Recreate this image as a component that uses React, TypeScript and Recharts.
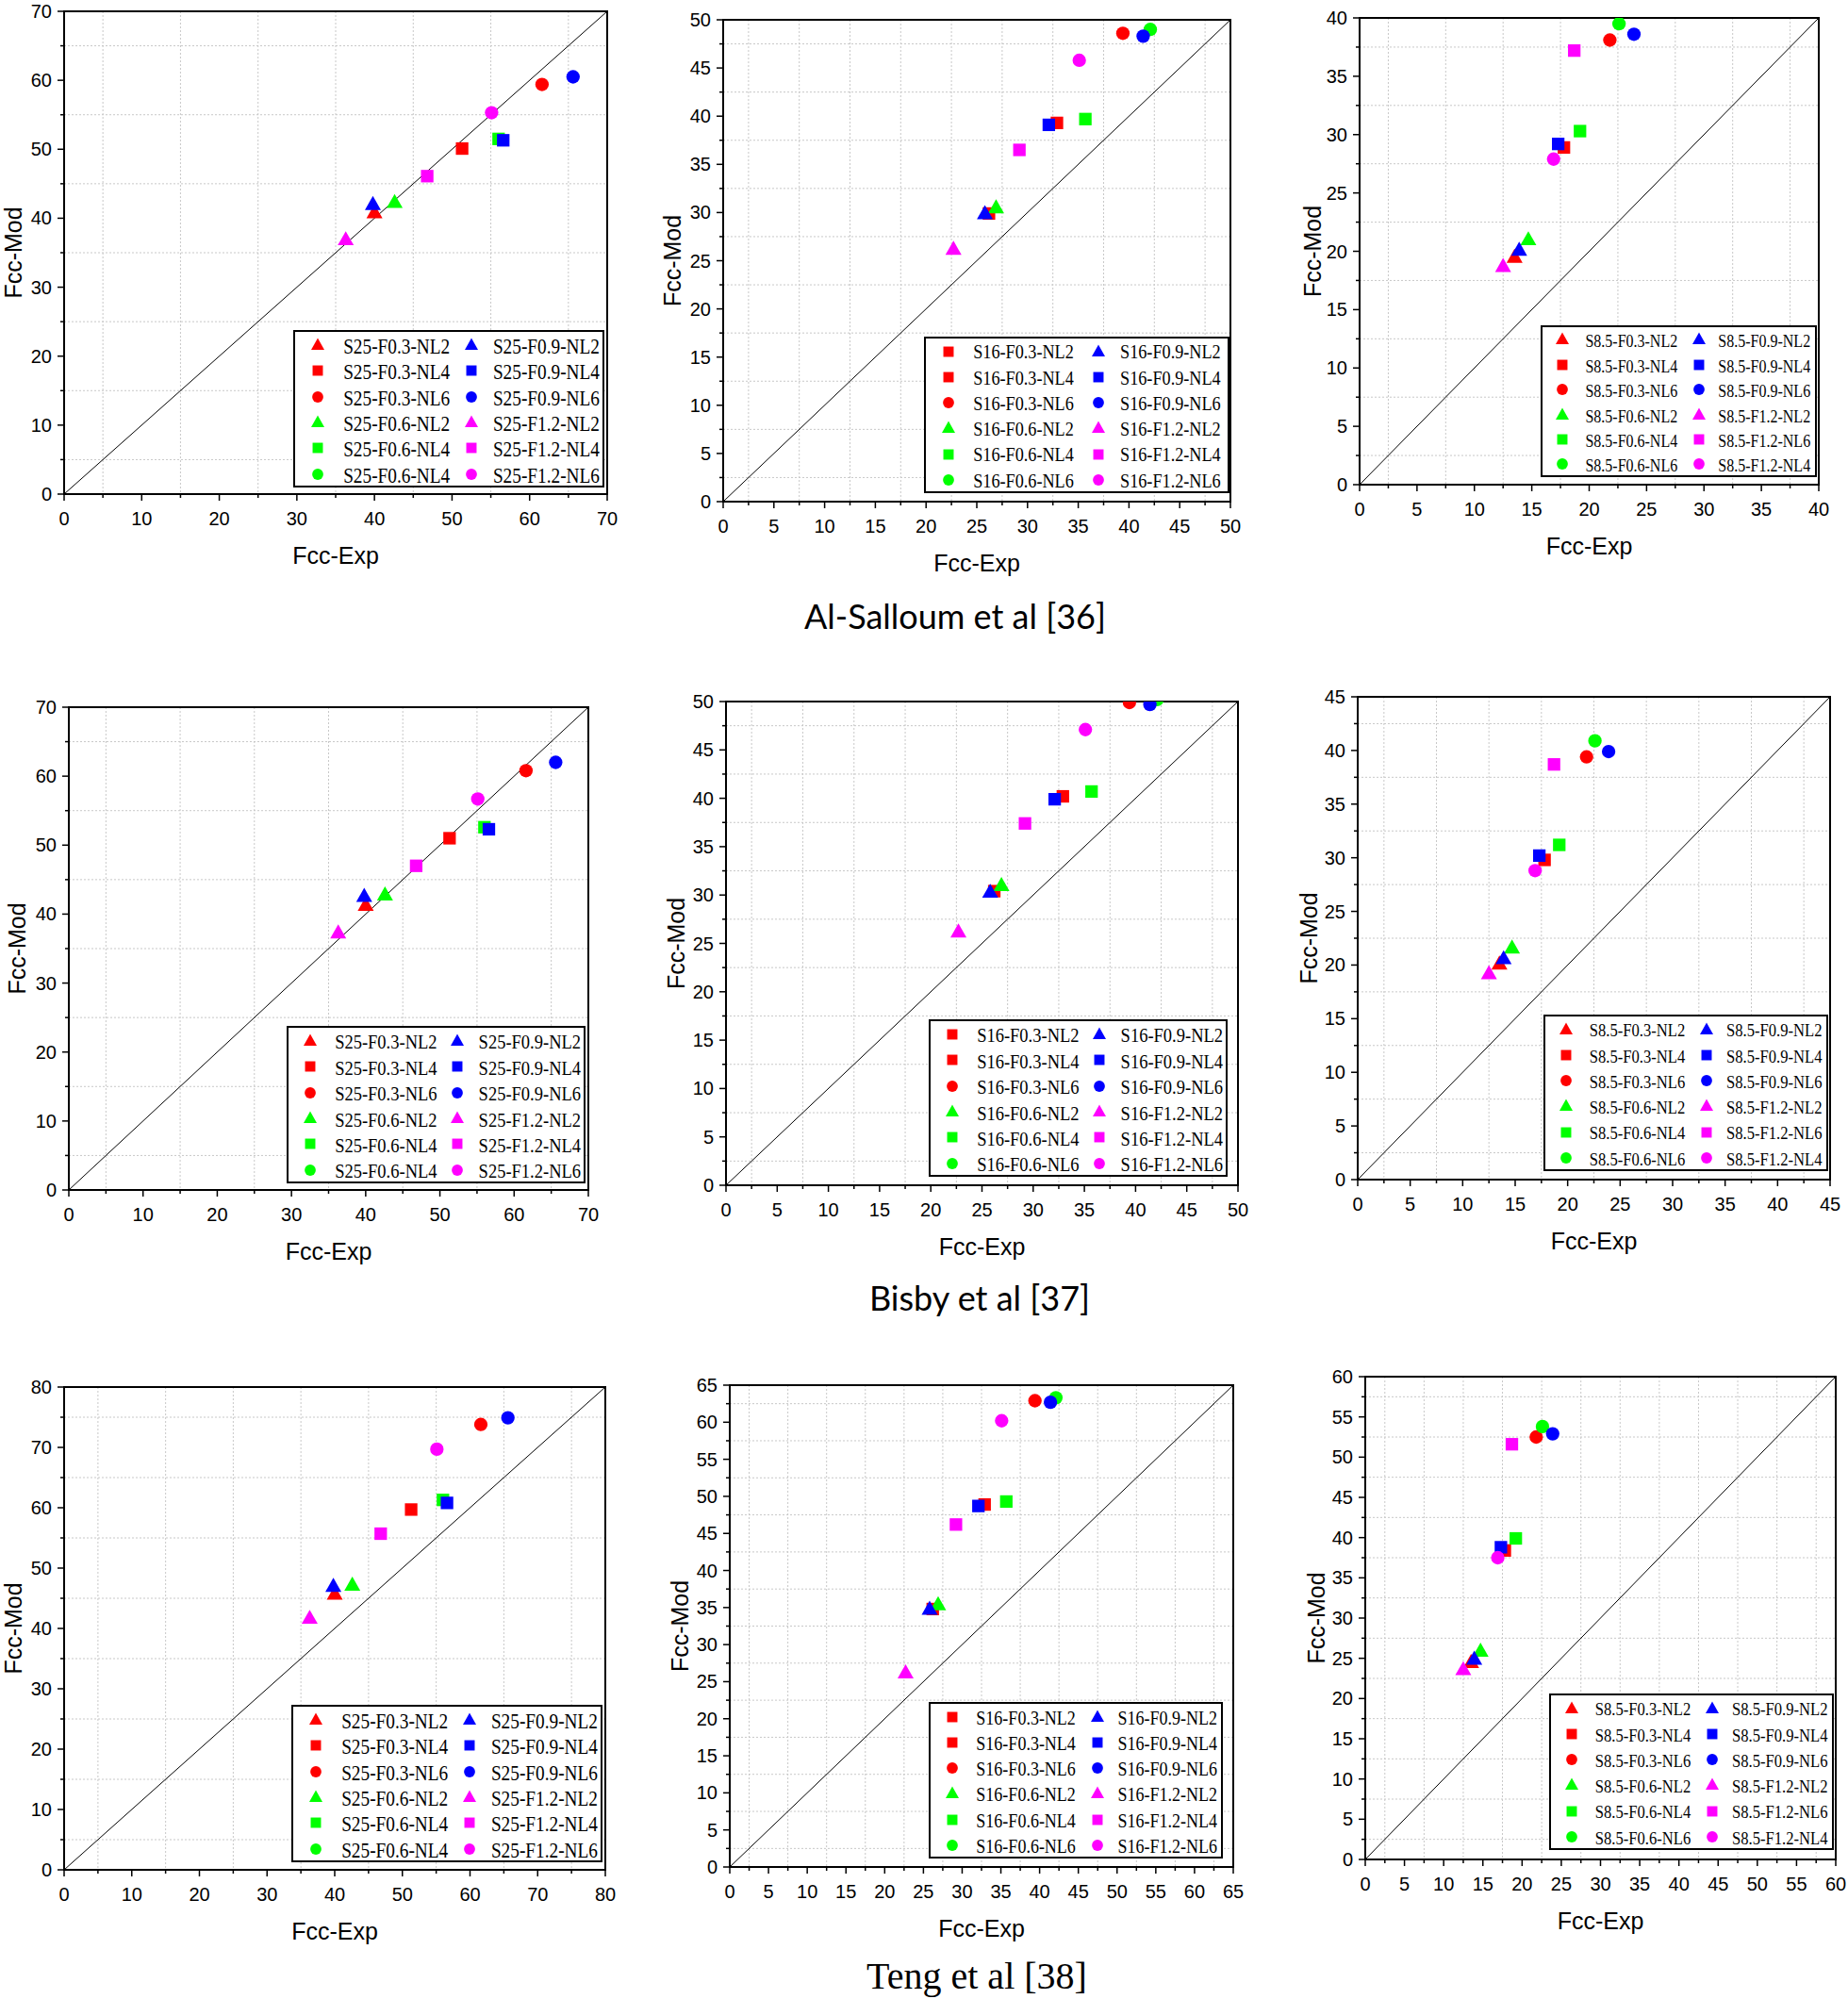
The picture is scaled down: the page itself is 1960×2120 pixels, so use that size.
import React from 'react';
import {
  ScatterChart,
  Scatter,
  XAxis,
  YAxis,
  CartesianGrid,
  ReferenceLine,
  ReferenceArea,
  Legend,
} from 'recharts';

const RED = '#ff0000';
const GREEN = '#00ff00';
const BLUE = '#0000ff';
const MAGENTA = '#ff00ff';

// series order: F0.3 NL2/4/6, F0.6 NL2/4/6, F0.9 NL2/4/6, F1.2 NL2/4/6
const seriesColors = [RED, RED, RED, GREEN, GREEN, GREEN, BLUE, BLUE, BLUE, MAGENTA, MAGENTA, MAGENTA];
const shapesStd = ['triangle', 'square', 'circle', 'triangle', 'square', 'circle', 'triangle', 'square', 'circle', 'triangle', 'square', 'circle'];
const shapesS16 = ['square', 'square', 'circle', 'triangle', 'square', 'circle', 'triangle', 'square', 'circle', 'triangle', 'square', 'circle'];

const namesS25 = ['S25-F0.3-NL2', 'S25-F0.3-NL4', 'S25-F0.3-NL6', 'S25-F0.6-NL2', 'S25-F0.6-NL4', 'S25-F0.6-NL4',
  'S25-F0.9-NL2', 'S25-F0.9-NL4', 'S25-F0.9-NL6', 'S25-F1.2-NL2', 'S25-F1.2-NL4', 'S25-F1.2-NL6'];
const namesS16 = ['S16-F0.3-NL2', 'S16-F0.3-NL4', 'S16-F0.3-NL6', 'S16-F0.6-NL2', 'S16-F0.6-NL4', 'S16-F0.6-NL6',
  'S16-F0.9-NL2', 'S16-F0.9-NL4', 'S16-F0.9-NL6', 'S16-F1.2-NL2', 'S16-F1.2-NL4', 'S16-F1.2-NL6'];
const namesS85 = ['S8.5-F0.3-NL2', 'S8.5-F0.3-NL4', 'S8.5-F0.3-NL6', 'S8.5-F0.6-NL2', 'S8.5-F0.6-NL4', 'S8.5-F0.6-NL6',
  'S8.5-F0.9-NL2', 'S8.5-F0.9-NL4', 'S8.5-F0.9-NL6', 'S8.5-F1.2-NL2', 'S8.5-F1.2-NL6', 'S8.5-F1.2-NL4'];

// experimental strength (x), same specimens in every row
const expS25 = [40.0, 51.3, 61.6, 42.6, 56.0, null, 39.8, 56.6, 65.6, 36.3, 46.8, 55.1];
const expS16 = [26.2, 32.9, 39.4, 26.9, 35.7, 42.1, 25.8, 32.1, 41.4, 22.7, 29.2, 35.1];
const expS85 = [13.5, 17.8, 21.8, 14.7, 19.2, 22.6, 13.9, 17.3, 23.9, 12.5, 18.7, 16.9];

// model strength (y)
const modS25AlSalloum = [40.8, 50.1, 59.4, 42.3, 51.5, null, 42.0, 51.3, 60.5, 36.9, 46.1, 55.3];
const modS16AlSalloum = [29.9, 39.3, 48.6, 30.5, 39.7, 49.0, 29.9, 39.1, 48.3, 26.2, 36.5, 45.8];
const modS85AlSalloum = [19.5, 28.9, 38.1, 21.0, 30.3, 39.5, 20.1, 29.2, 38.6, 18.7, 37.2, 27.9];

const modS25Bisby = [41.3, 51.0, 60.8, 42.8, 52.6, null, 42.6, 52.3, 62.0, 37.3, 47.0, 56.7];
const modS16Bisby = [30.4, 40.2, 49.9, 31.0, 40.7, 50.2, 30.3, 39.9, 49.7, 26.2, 37.4, 47.1];
const modS85Bisby = [20.1, 29.8, 39.4, 21.6, 31.2, 40.9, 20.6, 30.2, 39.9, 19.2, 38.7, 28.8];

const modS25Teng = [45.7, 59.7, 73.8, 47.2, 61.3, null, 47.0, 60.8, 74.9, 41.7, 55.7, 69.7];
const modS16Teng = [34.8, 48.9, 62.9, 35.4, 49.3, 63.3, 34.8, 48.7, 62.7, 26.2, 46.2, 60.2];
const modS85Teng = [24.5, 38.4, 52.5, 25.9, 39.9, 53.8, 24.9, 38.8, 52.9, 23.6, 51.6, 37.5];

const ticks40 = [0, 5, 10, 15, 20, 25, 30, 35, 40];
const ticks45 = [0, 5, 10, 15, 20, 25, 30, 35, 40, 45];
const ticks50 = [0, 5, 10, 15, 20, 25, 30, 35, 40, 45, 50];
const ticks60 = [0, 5, 10, 15, 20, 25, 30, 35, 40, 45, 50, 55, 60];
const ticks65 = [0, 5, 10, 15, 20, 25, 30, 35, 40, 45, 50, 55, 60, 65];
const ticks70 = [0, 10, 20, 30, 40, 50, 60, 70];
const ticks80 = [0, 10, 20, 30, 40, 50, 60, 70, 80];

const captions = ['Al-Salloum et al [36]', 'Bisby et al [37]', 'Teng et al [38]'];

const SANS = '"Liberation Sans", Arial, sans-serif';
const SERIF = '"Liberation Serif", "Times New Roman", serif';

function Marker({ cx, cy, shape, color, s }: { cx: number; cy: number; shape: string; color: string; s: number }) {
  if (shape === 'triangle') {
    const h = s * 0.88;
    return <polygon points={`${cx},${cy - h * 0.6} ${cx - s / 2},${cy + h * 0.4} ${cx + s / 2},${cy + h * 0.4}`} fill={color} />;
  }
  if (shape === 'square') {
    const a = s * 0.78;
    return <rect x={cx - a / 2} y={cy - a / 2} width={a} height={a} fill={color} />;
  }
  return <circle cx={cx} cy={cy} r={s * 0.42} fill={color} />;
}

function LegendBox({ names, shapes, w, h, fs }: any) {
  const rows = [0, 1, 2, 3, 4, 5];
  const item = (i: number, col: number) => {
    const cy = h * (0.095 + (i % 6) * 0.164);
    const mx = w * (col === 0 ? 0.073 : 0.566);
    const tx = w * (col === 0 ? 0.155 : 0.636);
    return (
      <React.Fragment key={i}>
        <svg width={20} height={20} style={{ position: 'absolute', left: mx - 10, top: cy - 10 - 2 }}>
          <Marker cx={10} cy={10} shape={shapes[i]} color={seriesColors[i]} s={14} />
        </svg>
        <div
          style={{
            position: 'absolute',
            left: tx,
            top: cy - fs * 0.62,
            fontFamily: SERIF,
            fontSize: fs,
            lineHeight: `${fs * 1.2}px`,
            whiteSpace: 'nowrap',
            color: '#000',
            transform: 'scaleY(1.15)',
            transformOrigin: 'left center',
          }}
        >
          {names[i]}
        </div>
      </React.Fragment>
    );
  };
  return (
    <div
      style={{
        position: 'relative',
        width: w,
        height: h,
        boxSizing: 'border-box',
        border: '2px solid #000',
        background: '#fff',
      }}
    >
      {rows.map((r) => item(r, 0))}
      {rows.map((r) => item(r + 6, 1))}
    </div>
  );
}

const panels = [
  { plot: { l: 68, t: 12, r: 644, b: 524 }, ticks: ticks70, names: namesS25, shapes: shapesStd, exp: expS25, mod: modS25AlSalloum, legend: { l: 311, t: 350, w: 330, h: 167, fs: 19.3 }, yGap: 54 },
  { plot: { l: 767, t: 21, r: 1305, b: 532 }, ticks: ticks50, names: namesS16, shapes: shapesS16, exp: expS16, mod: modS16AlSalloum, legend: { l: 980, t: 357, w: 324, h: 166, fs: 18.2 }, yGap: 54 },
  { plot: { l: 1442, t: 19, r: 1929, b: 514 }, ticks: ticks40, names: namesS85, shapes: shapesStd, exp: expS85, mod: modS85AlSalloum, legend: { l: 1634, t: 345, w: 293, h: 161, fs: 16.0 }, yGap: 50 },
  { plot: { l: 73, t: 750, r: 624, b: 1262 }, ticks: ticks70, names: namesS25, shapes: shapesStd, exp: expS25, mod: modS25Bisby, legend: { l: 304, t: 1088, w: 317, h: 167, fs: 18.5 }, yGap: 55 },
  { plot: { l: 770, t: 744, r: 1313, b: 1257 }, ticks: ticks50, names: namesS16, shapes: shapesS16, exp: expS16, mod: modS16Bisby, legend: { l: 985, t: 1081, w: 317, h: 167, fs: 18.5 }, yGap: 53 },
  { plot: { l: 1440, t: 739, r: 1941, b: 1251 }, ticks: ticks45, names: namesS85, shapes: shapesStd, exp: expS85, mod: modS85Bisby, legend: { l: 1637, t: 1076, w: 302, h: 166, fs: 16.6 }, yGap: 52 },
  { plot: { l: 68, t: 1471, r: 642, b: 1983 }, ticks: ticks80, names: namesS25, shapes: shapesStd, exp: expS25, mod: modS25Teng, legend: { l: 309, t: 1808, w: 330, h: 167, fs: 19.3 }, yGap: 54 },
  { plot: { l: 774, t: 1469, r: 1308, b: 1980 }, ticks: ticks65, names: namesS16, shapes: shapesS16, exp: expS16, mod: modS16Teng, legend: { l: 985, t: 1805, w: 312, h: 166, fs: 18.0 }, yGap: 53 },
  { plot: { l: 1448, t: 1460, r: 1947, b: 1972 }, ticks: ticks60, names: namesS85, shapes: shapesStd, exp: expS85, mod: modS85Teng, legend: { l: 1643, t: 1796, w: 302, h: 166, fs: 16.6 }, yGap: 52 },
];

const ML = 80;
const MT = 15;
const XH = 85;

function Panel({ cfg }: { cfg: any }) {
  const { plot, ticks, names, shapes, exp, mod, legend, yGap } = cfg;
  const max = ticks[ticks.length - 1];
  const minor = ticks.slice(1).map((t: number, i: number) => (t + ticks[i]) / 2);
  const allTicks = [...ticks, ...minor].sort((a, b) => a - b);
  const MR = Math.min(30, 1960 - plot.r);
  const pw = plot.r - plot.l;
  const ph = plot.b - plot.t;
  const left = plot.l - ML;
  const top = plot.t - MT;
  const W = pw + ML + MR;
  const H = ph + MT + XH;

  const xTick = (p: any) => {
    const major = ticks.includes(p.payload.value);
    return (
      <g>
        <line x1={p.x} y1={p.y} x2={p.x} y2={p.y + (major ? 7 : 4)} stroke="#000" strokeWidth={1.5} />
        {major && (
          <text x={p.x} y={p.y + 26} textAnchor="middle" dominantBaseline="central" fontSize={20} fontFamily={SANS} fill="#000">
            {p.payload.value}
          </text>
        )}
      </g>
    );
  };
  const yTick = (p: any) => {
    const major = ticks.includes(p.payload.value);
    return (
      <g>
        <line x1={p.x} y1={p.y} x2={p.x - (major ? 7 : 4)} y2={p.y} stroke="#000" strokeWidth={1.5} />
        {major && (
          <text x={p.x - 13} y={p.y} textAnchor="end" dominantBaseline="central" fontSize={20} fontFamily={SANS} fill="#000">
            {p.payload.value}
          </text>
        )}
      </g>
    );
  };

  const xl = ML + pw / 2;
  const yl = MT + ph + 65;
  const yx = ML - yGap;
  const yy = MT + ph / 2;

  return (
    <div style={{ position: 'absolute', left, top }}>
      <ScatterChart width={W} height={H} margin={{ top: MT, right: MR, bottom: 0, left: 0 }}>
        <CartesianGrid stroke="#c8c8c8" strokeDasharray="2 2" horizontalValues={minor} verticalValues={minor} />
        <XAxis
          type="number"
          dataKey="x"
          domain={[0, max]}
          ticks={allTicks}
          interval={0}
          allowDataOverflow
          height={XH}
          axisLine={false}
          tickLine={false}
          tickSize={0}
          tickMargin={0}
          tick={xTick}
          label={{
            content: () => (
              <text x={xl} y={yl} textAnchor="middle" dominantBaseline="central" fontSize={25} fontFamily={SANS} fill="#000">
                Fcc-Exp
              </text>
            ),
          }}
        />
        <YAxis
          type="number"
          dataKey="y"
          domain={[0, max]}
          ticks={allTicks}
          interval={0}
          allowDataOverflow
          width={ML}
          axisLine={false}
          tickLine={false}
          tickSize={0}
          tickMargin={0}
          tick={yTick}
          label={{
            content: () => (
              <text
                x={yx}
                y={yy}
                transform={`rotate(-90 ${yx} ${yy})`}
                textAnchor="middle"
                dominantBaseline="central"
                fontSize={25}
                fontFamily={SANS}
                fill="#000"
              >
                Fcc-Mod
              </text>
            ),
          }}
        />
        <ReferenceLine segment={[{ x: 0, y: 0 }, { x: max, y: max }]} stroke="#000" strokeWidth={1} />
        {names.map((n: string, i: number) => (
          <Scatter
            key={i}
            name={n}
            data={exp[i] == null ? [] : [{ x: exp[i], y: mod[i] }]}
            fill={seriesColors[i]}
            isAnimationActive={false}
            shape={(p: any) => <Marker cx={p.cx} cy={p.cy} shape={shapes[i]} color={seriesColors[i]} s={17} />}
          />
        ))}
        <ReferenceArea x1={0} x2={max} y1={0} y2={max} fill="none" fillOpacity={0} stroke="#000" strokeWidth={2} />
        <Legend
          layout="horizontal"
          verticalAlign="middle"
          align="center"
          wrapperStyle={{ left: legend.l - left, top: legend.t - top, width: legend.w, height: legend.h }}
          content={() => <LegendBox names={names} shapes={shapes} w={legend.w} h={legend.h} fs={legend.fs} />}
        />
      </ScatterChart>
    </div>
  );
}

export default function App() {
  return (
    <div style={{ position: 'relative', width: 1960, height: 2120, overflow: 'hidden', background: '#fff' }}>
      <style>{'body{margin:0}'}</style>
      {panels.map((cfg, i) => (
        <Panel key={i} cfg={cfg} />
      ))}
      <div style={{ position: 'absolute', left: 1013, top: 653, transform: 'translate(-50%,-50%)', fontFamily: 'Lato, "Open Sans", sans-serif', fontSize: 36, whiteSpace: 'nowrap' }}>
        {captions[0]}
      </div>
      <div style={{ position: 'absolute', left: 1039, top: 1376, transform: 'translate(-50%,-50%)', fontFamily: 'Lato, "Open Sans", sans-serif', fontSize: 36, whiteSpace: 'nowrap' }}>
        {captions[1]}
      </div>
      <div style={{ position: 'absolute', left: 1036, top: 2095, transform: 'translate(-50%,-50%)', fontFamily: SERIF, fontSize: 40, whiteSpace: 'nowrap' }}>
        {captions[2]}
      </div>
    </div>
  );
}
